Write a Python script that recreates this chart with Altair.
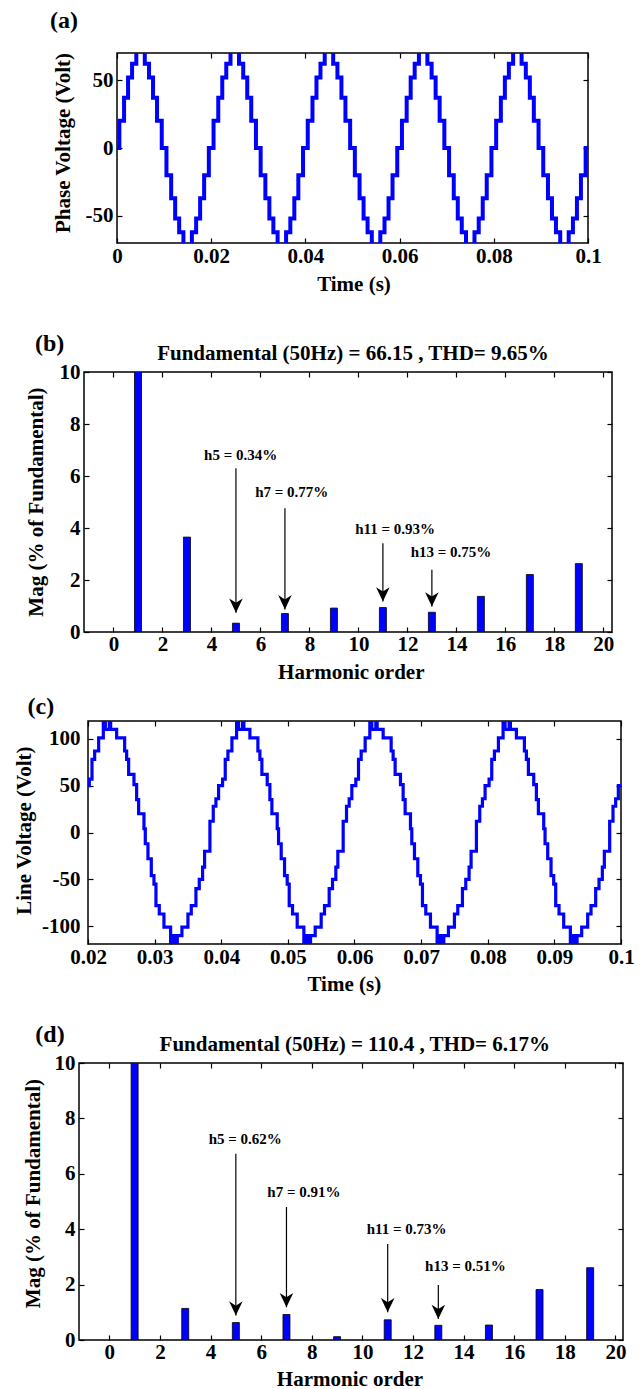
import altair as alt
import numpy as np
import pandas as pd

FONT = "Liberation Serif"
BLUE = "#0000ff"

# ---------------- (a) phase voltage staircase: transition times (ms) and levels (V)
phase_t_ms = [0.0,
    0.5, 1.5, 2.35, 3.2, 4.1, 5.9, 6.8, 7.65, 8.5, 9.5, 10.5, 11.5, 12.35, 13.2, 14.1, 15.9, 16.8, 17.65, 18.5, 19.5,
    20.5, 21.5, 22.35, 23.2, 24.1, 25.9, 26.8, 27.65, 28.5, 29.5, 30.5, 31.5, 32.35, 33.2, 34.1, 35.9, 36.8, 37.65, 38.5, 39.5,
    40.5, 41.5, 42.35, 43.2, 44.1, 45.9, 46.8, 47.65, 48.5, 49.5, 50.5, 51.5, 52.35, 53.2, 54.1, 55.9, 56.8, 57.65, 58.5, 59.5,
    60.5, 61.5, 62.35, 63.2, 64.1, 65.9, 66.8, 67.65, 68.5, 69.5, 70.5, 71.5, 72.35, 73.2, 74.1, 75.9, 76.8, 77.65, 78.5, 79.5,
    80.5, 81.5, 82.35, 83.2, 84.1, 85.9, 86.8, 87.65, 88.5, 89.5, 90.5, 91.5, 92.35, 93.2, 94.1, 95.9, 96.8, 97.65, 98.5, 99.5,
    100.0]
phase_v = [0,
    20, 37, 52, 62, 72, 62, 52, 37, 20, 0, -20, -37, -52, -62, -72, -62, -52, -37, -20, 0,
    20, 37, 52, 62, 72, 62, 52, 37, 20, 0, -20, -37, -52, -62, -72, -62, -52, -37, -20, 0,
    20, 37, 52, 62, 72, 62, 52, 37, 20, 0, -20, -37, -52, -62, -72, -62, -52, -37, -20, 0,
    20, 37, 52, 62, 72, 62, 52, 37, 20, 0, -20, -37, -52, -62, -72, -62, -52, -37, -20, 0,
    20, 37, 52, 62, 72, 62, 52, 37, 20, 0, -20, -37, -52, -62, -72, -62, -52, -37, -20, 0,
    0]

# ---------------- (c) line voltage staircase: transition times (ms) and levels (V)
line_t_ms = [20.0,
    20.2, 20.6, 21.0, 21.6, 22.3, 22.6, 23.2, 23.4, 24.3, 25.5, 25.8, 26.1, 26.9, 27.3, 27.6, 28.4, 28.6, 29.0, 29.5,
    29.9, 30.2, 30.7, 31.4, 32.4, 32.7, 33.1, 33.4, 34.1, 35.0, 35.5, 36.2, 36.7, 37.2, 37.5, 38.3, 38.8, 39.2, 39.6,
    40.2, 40.6, 41.0, 41.6, 42.3, 42.6, 43.2, 43.4, 44.3, 45.5, 45.8, 46.1, 46.9, 47.3, 47.6, 48.4, 48.6, 49.0, 49.5,
    49.9, 50.2, 50.7, 51.4, 52.4, 52.7, 53.1, 53.4, 54.1, 55.0, 55.5, 56.2, 56.7, 57.2, 57.5, 58.3, 58.8, 59.2, 59.6,
    60.2, 60.6, 61.0, 61.6, 62.3, 62.6, 63.2, 63.4, 64.3, 65.5, 65.8, 66.1, 66.9, 67.3, 67.6, 68.4, 68.6, 69.0, 69.5,
    69.9, 70.2, 70.7, 71.4, 72.4, 72.7, 73.1, 73.4, 74.1, 75.0, 75.5, 76.2, 76.7, 77.2, 77.5, 78.3, 78.8, 79.2, 79.6,
    80.2, 80.6, 81.0, 81.6, 82.3, 82.6, 83.2, 83.4, 84.3, 85.5, 85.8, 86.1, 86.9, 87.3, 87.6, 88.4, 88.6, 89.0, 89.5,
    89.9, 90.2, 90.7, 91.4, 92.4, 92.7, 93.1, 93.4, 94.1, 95.0, 95.5, 96.2, 96.7, 97.2, 97.5, 98.3, 98.8, 99.2, 99.6,
    100.0]
line_v = [50,
    57, 78, 87, 101, 122, 110, 122, 110, 101, 87, 78, 62, 51, 35, 20, 4, -12, -28, -46,
    -55, -78, -87, -101, -122, -110, -122, -110, -101, -87, -78, -60, -50, -37, -20, 12, 28, 36, 50,
    57, 78, 87, 101, 122, 110, 122, 110, 101, 87, 78, 62, 51, 35, 20, 4, -12, -28, -46,
    -55, -78, -87, -101, -122, -110, -122, -110, -101, -87, -78, -60, -50, -37, -20, 12, 28, 36, 50,
    57, 78, 87, 101, 122, 110, 122, 110, 101, 87, 78, 62, 51, 35, 20, 4, -12, -28, -46,
    -55, -78, -87, -101, -122, -110, -122, -110, -101, -87, -78, -60, -50, -37, -20, 12, 28, 36, 50,
    57, 78, 87, 101, 122, 110, 122, 110, 101, 87, 78, 62, 51, 35, 20, 4, -12, -28, -46,
    -55, -78, -87, -101, -122, -110, -122, -110, -101, -87, -78, -60, -50, -37, -20, 12, 28, 36, 50,
    50]

# ---------------- (b), (d) harmonic spectra (% of fundamental)
harm_order = [1, 3, 5, 7, 9, 11, 13, 15, 17, 19]
phase_mag = [100, 3.65, 0.34, 0.71, 0.92, 0.94, 0.76, 1.37, 2.21, 2.63]
line_mag = [100, 1.14, 0.63, 0.92, 0.12, 0.73, 0.53, 0.54, 1.82, 2.61]

ann_orders = [5, 7, 11, 13]
phase_ann_text = ["h5 = 0.34%", "h7 = 0.77%", "h11 = 0.93%", "h13 = 0.75%"]
phase_ann_x = [5.19, 7.28, 11.5, 13.78]
phase_ann_y = [6.82, 5.38, 3.97, 3.06]
phase_arrow_top = [6.30, 4.76, 3.41, 2.39]
phase_arrow_tip = [0.74, 0.87, 1.17, 0.98]

line_ann_text = ["h5 = 0.62%", "h7 = 0.91%", "h11 = 0.73%", "h13 = 0.51%"]
line_ann_x = [5.37, 7.69, 11.75, 14.07]
line_ann_y = [7.27, 5.34, 4.01, 2.66]
line_arrow_top = [6.72, 4.80, 3.47, 1.99]
line_arrow_tip = [0.88, 1.18, 1.00, 0.76]

phase_title = "Fundamental (50Hz) = 66.15 , THD= 9.65%"
line_title = "Fundamental (50Hz) = 110.4 , THD= 6.17%"

time_ticks_a = [0, 0.02, 0.04, 0.06, 0.08, 0.1]
volt_ticks_a = [-50, 0, 50]
time_ticks_c = [0.02, 0.03, 0.04, 0.05, 0.06, 0.07, 0.08, 0.09, 0.1]
volt_ticks_c = [-100, -50, 0, 50, 100]
harm_ticks = [0, 2, 4, 6, 8, 10, 12, 14, 16, 18, 20]
mag_ticks = [0, 2, 4, 6, 8, 10]

# ---------------- helpers
ONE = pd.DataFrame({"k": [0]})
LEXPR = "datum.value < 0 ? '-' + format(-datum.value, '~g') : format(datum.value, '~g')"
ARROW = "M-0.95,-2 L0,0 L0.95,-2 L0,-1.4 Z"


def main_axis(ticks, orient, pad):
    return alt.Axis(values=ticks, orient=orient, offset=-5, tickSize=5, labelPadding=pad,
                    labelExpr=LEXPR, title=None, domain=False, grid=False,
                    labelOverlap=False, labelFlush=False)


def mirror_axis(ticks, orient):
    return alt.Axis(values=ticks, orient=orient, offset=-5, tickSize=5, labels=False,
                    title=None, domain=False, grid=False)


def mirror_layers(xt, yt, xs, ys):
    top = alt.Chart(pd.DataFrame({"xv": xt})).mark_rule(opacity=0).encode(
        x=alt.X("xv:Q", scale=xs, axis=mirror_axis(xt, "top")))
    right = alt.Chart(pd.DataFrame({"yv": yt})).mark_rule(opacity=0).encode(
        y=alt.Y("yv:Q", scale=ys, axis=mirror_axis(yt, "right")))
    return [top, right]


def text_at(txt, x, y, size, angle=0):
    return alt.Chart(ONE).mark_text(text=txt, font=FONT, fontWeight="bold", fontSize=size,
                                    angle=angle, align="center", baseline="middle",
                                    color="black").encode(x=alt.value(x), y=alt.value(y))


def frame(L, T, W, H, B):
    # invisible box that fixes the outer bounds of a panel
    return alt.Chart(ONE).mark_rule(color="white", strokeOpacity=0, strokeWidth=0.01).encode(
        x=alt.value(-L), x2=alt.value(W), y=alt.value(-T), y2=alt.value(H + B))


def spacer(s):
    # empty left margin cell that sets the horizontal position of a panel
    return alt.Chart(ONE).mark_point(opacity=0, size=1).encode(
        x=alt.value(s / 2), y=alt.value(0.5)).properties(
        width=s, height=1, view=alt.ViewBackground(strokeOpacity=0))


def wave_panel(t_ms, v, xdom, ydom, xt, yt, W, H, L, T, B, sw, xpad, ypad,
               letter, letter_xy, ytitle, ytitle_xy, xtitle_xy):
    xs = alt.Scale(domain=xdom, nice=False, zero=False)
    ys = alt.Scale(domain=ydom, nice=False, zero=False)
    df = pd.DataFrame({"t": np.array(t_ms) / 1000.0, "v": v})
    line = alt.Chart(df).mark_line(interpolate="step-after", color=BLUE, strokeWidth=sw,
                                   clip=True).encode(
        x=alt.X("t:Q", scale=xs, axis=main_axis(xt, "bottom", xpad)),
        y=alt.Y("v:Q", scale=ys, axis=main_axis(yt, "left", ypad)))
    layers = [frame(L, T, W, H, B), line] + mirror_layers(xt, yt, xs, ys) + [
        text_at(letter, letter_xy[0], letter_xy[1], 24),
        text_at(ytitle, ytitle_xy[0], ytitle_xy[1], 21, 270),
        text_at("Time  (s)", xtitle_xy[0], xtitle_xy[1], 21),
    ]
    return alt.layer(*layers).resolve_axis(x="independent", y="independent").properties(
        width=W, height=H)


def spec_panel(mag, ann_text, ann_x, ann_y, a_top, a_tip, title, xdom, W, H, L, T, B,
               xpad, ypad, letter, letter_xy, title_xy, ytitle_xy, xtitle_xy):
    xs = alt.Scale(domain=xdom, nice=False, zero=False)
    ys = alt.Scale(domain=[0, 10], nice=False, zero=False)
    df = pd.DataFrame({"h": harm_order, "m": mag})
    bars = alt.Chart(df).mark_bar(size=7, color=BLUE, stroke="black", strokeWidth=0.8,
                                  clip=True).encode(
        x=alt.X("h:Q", scale=xs, axis=main_axis(harm_ticks, "bottom", xpad)),
        y=alt.Y("m:Q", scale=ys, axis=main_axis(mag_ticks, "left", ypad)))
    dfa = pd.DataFrame({"x": ann_x, "y": ann_y, "label": ann_text})
    labels = alt.Chart(dfa).mark_text(font=FONT, fontWeight="bold", fontSize=15, align="center",
                                      baseline="middle", color="black").encode(
        x=alt.X("x:Q", scale=xs, axis=None), y=alt.Y("y:Q", scale=ys, axis=None),
        text="label:N")
    dfr = pd.DataFrame({"h": ann_orders, "top": a_top, "tip": a_tip})
    shafts = alt.Chart(dfr).mark_rule(color="black", strokeWidth=1.2).encode(
        x=alt.X("h:Q", scale=xs, axis=None), y=alt.Y("top:Q", scale=ys, axis=None),
        y2="tip:Q")
    heads = alt.Chart(dfr).mark_point(shape=ARROW, size=204, filled=True, color="black",
                                      opacity=1, strokeWidth=0).encode(
        x=alt.X("h:Q", scale=xs, axis=None), y=alt.Y("tip:Q", scale=ys, axis=None))
    layers = [frame(L, T, W, H, B), bars, shafts, heads, labels] + \
        mirror_layers(harm_ticks, mag_ticks, xs, ys) + [
        text_at(letter, letter_xy[0], letter_xy[1], 24),
        text_at(title, title_xy[0], title_xy[1], 21),
        text_at("Mag (% of Fundamental)", ytitle_xy[0], ytitle_xy[1], 21, 270),
        text_at("Harmonic order", xtitle_xy[0], xtitle_xy[1], 21),
    ]
    return alt.layer(*layers).resolve_axis(x="independent", y="independent").properties(
        width=W, height=H)


pa = wave_panel(phase_t_ms, phase_v, [0, 0.1], [-70, 70], time_ticks_a, volt_ticks_a,
                W=471, H=190, L=70, T=44, B=56, sw=4, xpad=2, ypad=4,
                letter="(a)", letter_xy=(-53, -32), ytitle="Phase  Voltage  (Volt)",
                ytitle_xy=(-53.5, 90), xtitle_xy=(237, 231.5))

pb = spec_panel(phase_mag, phase_ann_text, phase_ann_x, phase_ann_y, phase_arrow_top,
                phase_arrow_tip, phase_title, [-1, 20.15],
                W=528, H=260, L=62, T=71, B=58, xpad=1, ypad=4,
                letter="(b)", letter_xy=(-34.4, -28.3), title_xy=(269, -18),
                ytitle_xy=(-47.4, 130), xtitle_xy=(267.3, 301))

pc = wave_panel(line_t_ms, line_v, [0.02, 0.1], [-119, 119], time_ticks_c, volt_ticks_c,
                W=533, H=223, L=76, T=29, B=63, sw=3.2, xpad=2, ypad=8,
                letter="(c)", letter_xy=(-47.2, -13.7), ytitle="Line  Voltage  (Volt)",
                ytitle_xy=(-62.7, 109.6), xtitle_xy=(256.3, 264.3))

pd_ = spec_panel(line_mag, line_ann_text, line_ann_x, line_ann_y, line_arrow_top,
                 line_arrow_tip, line_title, [-1, 20.1],
                 W=544, H=277, L=60, T=54, B=52, xpad=1, ypad=4,
                 letter="(d)", letter_xy=(-29, -27.7), title_xy=(275.8, -17.7),
                 ytitle_xy=(-45, 130.5), xtitle_xy=(271, 317))

# each row = left margin spacer + panel (plot left = 8 + spacer + L)
rows = [alt.hconcat(spacer(s), p, spacing=0)
        for s, p in ((38, pa), (13, pb), (3, pc), (10, pd_))]

chart = alt.vconcat(*rows, spacing=0).properties(padding=0).configure_view(
    stroke="black", strokeWidth=1.5
).configure_axis(
    labelFont=FONT, labelFontSize=21, labelFontWeight="bold", labelColor="black",
    tickColor="black", tickWidth=1.2
)

chart.save("out.html", embed_options={"renderer": "svg", "actions": False})
